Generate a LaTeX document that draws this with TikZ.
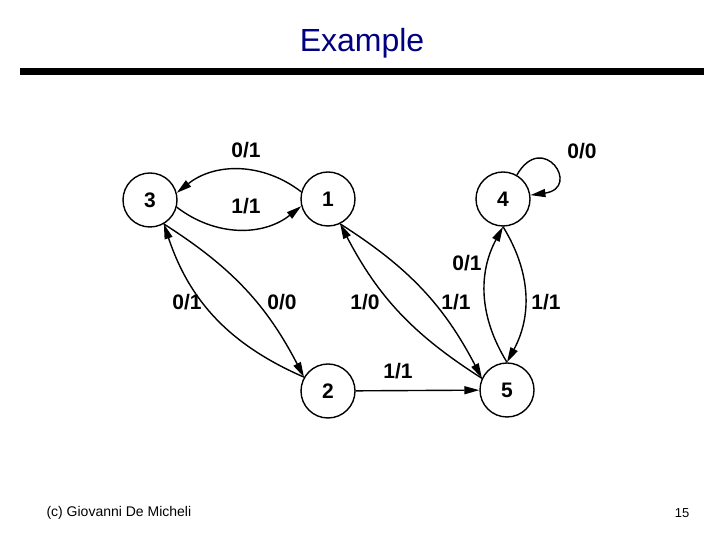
\documentclass[tikz,border=0pt]{standalone}
\usepackage{fontspec}
\setmainfont{Liberation Sans}
\usetikzlibrary{arrows.meta}
\usetikzlibrary{positioning}
\definecolor{titleblue}{RGB}{0,0,128}

\begin{document}
\begin{tikzpicture}[x=1pt,y=1pt]
	\useasboundingbox (0,0) rectangle (720,540);
	\node[text=titleblue, font=\fontsize{32}{38}\selectfont] (title) at (362,497) {Example};
	\fill (20,465) rectangle (704,472);

	\begin{scope}[every node/.style={circle, draw, line width=1.4pt, minimum size=54pt, inner sep=0pt, font=\fontsize{21}{25}\selectfont\bfseries}]
	    	\node (3) at (150,340) {3};
		\node (1) at (328,341) {1};
	    	\node (4) at (503,341) {4};
		\node (2) at (328,149) {2};
	    	\node (5) at (507,150) {5};
	\end{scope}

	\begin{scope}[every node/.style={font=\fontsize{21}{25}\selectfont\bfseries}]
		\node (l13) at (246,390) {0/1};
		\node (l31) at (246,334) {1/1};
		\node (l44) at (582,389) {0/0};
		\node (l23) at (187,238) {0/1};
		\node (l32) at (282,238) {0/0};
		\node (l51) at (365,238) {1/0};
		\node (l15) at (456,238) {1/1};
		\node (l54) at (467,277) {0/1};
		\node (l45) at (546,238) {1/1};
		\node (l25) at (398,169) {1/1};
	\end{scope}

	\begin{scope}[>={Triangle[length=15pt,width=8pt]},
	              every edge/.style={draw=black, line width=1.4pt, ->}]
		\path (1.165) edge[bend right=38] (3.15);
		\path (3.-15) edge[bend right=38] (1.-165);
		\path (4) edge[out=60, in=8, distance=52pt] (4);
		\path (2.150) edge[bend left=24] (3.-60);
		\path (3.-60) edge[bend left=15] (2.150);
		\path (5.155) edge[bend left=15] (1.-64);
		\path (1.-64) edge[bend left=15] (5.155);
		\path (5.north) edge[bend left=30] (4.south);
		\path (4.south) edge[bend left=30] (5.north);
		\path (2) edge (5);
	\end{scope}

	\node[anchor=west, font=\fontsize{14}{17}\selectfont] (author) at (43,27) {(c) Giovanni De Micheli};
	\node[font=\fontsize{13}{16}\selectfont] (page) at (682,27) {15};
\end{tikzpicture}
\end{document}
